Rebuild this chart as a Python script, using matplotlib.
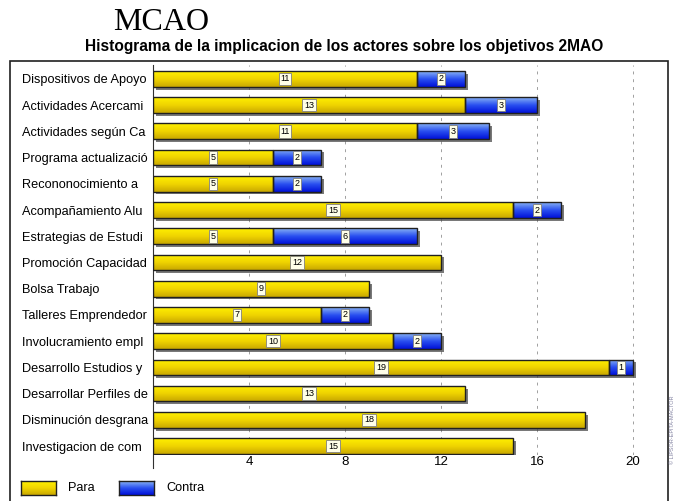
import matplotlib
matplotlib.use('Agg')
import matplotlib.pyplot as plt
import matplotlib.patheffects as pe
from matplotlib.patches import Rectangle
from matplotlib.colors import LinearSegmentedColormap
import numpy as np

plt.rcParams['font.family'] = ['Liberation Sans', 'DejaVu Sans']

# datos del histograma
objetivos = ['Dispositivos de Apoyo', 'Actividades Acercami', 'Actividades según Ca',
             'Programa actualizació', 'Recononocimiento a', 'Acompañamiento Alu',
             'Estrategias de Estudi', 'Promoción Capacidad', 'Bolsa Trabajo',
             'Talleres Emprendedor', 'Involucramiento empl', 'Desarrollo Estudios y',
             'Desarrollar Perfiles de', 'Disminución desgrana', 'Investigacion de com']
para = [11, 13, 11, 5, 5, 15, 5, 12, 9, 7, 10, 19, 13, 18, 15]
contra = [2, 3, 3, 2, 2, 2, 6, 0, 0, 2, 2, 1, 0, 0, 0]
xticks = [4, 8, 12, 16, 20]

W, H = 675, 501
fig = plt.figure(figsize=(W / 100, H / 100), dpi=100)

def fx(px):
    return px / W

def fy(py):
    return 1 - py / H

ax = fig.add_axes([fx(153), fy(455), fx(667) - fx(153), fy(65) - fy(455)])

amarillo = LinearSegmentedColormap.from_list('am', ['#c9a800', '#f0d400', '#fff000'])
azul = LinearSegmentedColormap.from_list('az', ['#0010d8', '#2a50f0', '#8ab4f4'])
grad = np.linspace(0, 1, 64).reshape(-1, 1)

altura = 0.6
sombra = [pe.SimplePatchShadow(offset=(2, -2), shadow_rgbFace='#404040', alpha=0.7), pe.Normal()]

def barra(y, izq, ancho, cmap):
    r = Rectangle((izq, y - altura / 2), ancho, altura, facecolor='none',
                  edgecolor='#202020', linewidth=1.0, zorder=4)
    fondo = Rectangle((izq, y - altura / 2), ancho, altura, facecolor='white',
                      edgecolor='none', zorder=2, path_effects=sombra)
    ax.add_patch(fondo)
    ax.add_patch(r)
    im = ax.imshow(grad, cmap=cmap, aspect='auto', origin='lower',
                   extent=[izq, izq + ancho, y + altura / 2, y - altura / 2], zorder=3)
    im.set_clip_path(r)

caja = dict(boxstyle='square,pad=0.2', facecolor='#ffffe8', edgecolor='#808080', linewidth=0.6)
for i, (p, c) in enumerate(zip(para, contra)):
    barra(i, 0, p, amarillo)
    ax.text(p / 2, i, str(p), ha='center', va='center', fontsize=6.5, bbox=caja, zorder=6)
    if c > 0:
        barra(i, p, c, azul)
        ax.text(p + c / 2, i, str(c), ha='center', va='center', fontsize=6.5, bbox=caja, zorder=6)

ax.set_xlim(0, (667 - 153) / 24)
ax.set_ylim(14.34, -0.53)
ax.set_xticks(xticks)
ax.set_xticklabels([str(t) for t in xticks], fontsize=9.5)
ax.set_yticks(range(len(objetivos)))
ax.set_yticklabels(objetivos, fontsize=9.2, ha='left')
ax.tick_params(axis='y', length=0, pad=(153 - 22) * 0.72)
ax.tick_params(axis='x', length=0, pad=1)
for s in ['top', 'right', 'bottom']:
    ax.spines[s].set_visible(False)
ax.spines['left'].set_color('#303030')
ax.spines['left'].set_bounds(14.34 + 0.5, -0.53)
ax.spines['left'].set_clip_on(False)
ax.grid(axis='x', linestyle=(0, (3, 5)), color='#a0a0a0', linewidth=0.7)
ax.set_axisbelow(True)
ax.patch.set_alpha(0)

# marco exterior
fig.add_artist(Rectangle((fx(10), fy(502)), fx(668) - fx(10), fy(61) - fy(502),
                         transform=fig.transFigure, facecolor='none',
                         edgecolor='#202020', linewidth=1.2))

# titulos
fig.text(fx(161), fy(23), 'MCAO', family=['Liberation Serif', 'DejaVu Serif'],
         fontsize=23, ha='center', va='center')
fig.text(fx(344), fy(46), 'Histograma de la implicacion de los actores sobre los objetivos 2MAO',
         fontsize=11.2, fontweight='bold', ha='center', va='center')

# leyenda
for x0, cmap, txt in [(21, amarillo, 'Para'), (119, azul, 'Contra')]:
    lax = fig.add_axes([fx(x0), fy(495), fx(35), fy(481) - fy(495)])
    lax.imshow(grad, cmap=cmap, aspect='auto', origin='lower', extent=[0, 1, 0, 1])
    lax.set_xticks([])
    lax.set_yticks([])
    for s in lax.spines.values():
        s.set_color('#202020')
        s.set_linewidth(1.0)
    fig.text(fx(x0 + 47), fy(488), txt, fontsize=9.2, ha='left', va='center')

fig.text(fx(672), fy(430), '© LIPSOR-EPITA-MACTOR', rotation=90, fontsize=4,
         color='#8080a0', ha='center', va='center')

fig.savefig('out.png', dpi=100, facecolor='white')
